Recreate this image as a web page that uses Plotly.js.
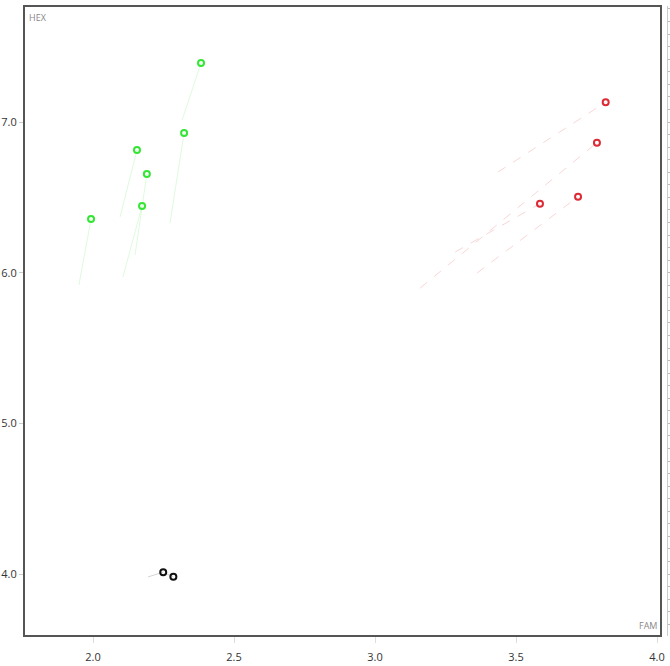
<!DOCTYPE html>
<html><head><meta charset="utf-8">
<script src="https://cdn.plot.ly/plotly-3.0.1.min.js"></script>
<style>html,body{margin:0;padding:0;background:#fff}</style>
</head><body><div id="chart" style="width:670px;height:666px"></div>
<script>
// Green group
const greenX = [1.993, 2.156, 2.191, 2.174, 2.323, 2.383];
const greenY = [6.356, 6.814, 6.655, 6.443, 6.927, 7.392];
const greenTailX = [1.950, 2.096, 2.149, 2.106, 2.273, 2.316];
const greenTailY = [5.918, 6.370, 6.117, 5.971, 6.330, 7.013];
// Red group
const redX = [3.818, 3.787, 3.585, 3.720];
const redY = [7.131, 6.863, 6.458, 6.504];
const redTailX = [3.436, 3.160, 3.284, 3.362];
const redTailY = [6.668, 5.898, 6.137, 5.998];
// Black group
const blackX = [2.249, 2.285];
const blackY = [4.013, 3.982];
const blackTailX = [2.195, 2.262];
const blackTailY = [3.981, 4.001];

const xTicks = [2.0, 2.5, 3.0, 3.5, 4.0];
const xTickText = ['2.0', '2.5', '3.0', '3.5', '4.0'];
const yTicks = [4.0, 5.0, 6.0, 7.0];
const yTickText = ['4.0', '5.0', '6.0', '7.0'];

const traces = [];
function addTails(xs, ys, tx, ty, color, dash, op) {
  for (let i = 0; i < xs.length; i++) {
    traces.push({x: [tx[i], xs[i]], y: [ty[i], ys[i]], mode: 'lines', type: 'scatter',
      line: {color: color, width: 1, dash: dash}, opacity: op, hoverinfo: 'skip', showlegend: false});
  }
}
addTails(greenX, greenY, greenTailX, greenTailY, '#33dd33', 'solid', 0.16);
addTails(redX, redY, redTailX, redTailY, '#dd3333', 'dash', 0.2);
addTails(blackX, blackY, blackTailX, blackTailY, '#555555', 'solid', 0.25);
function addPts(xs, ys, color) {
  traces.push({x: xs, y: ys, mode: 'markers', type: 'scatter',
    marker: {symbol: 'circle-open', size: 6, color: color, line: {width: 2, color: color}}, showlegend: false});
}
addPts(greenX, greenY, '#33e633');
addPts(redX, redY, '#dd2a35');
addPts(blackX, blackY, '#111111');
// invisible trace for right tick axis
traces.push({x: [2], y: [5], yaxis: 'y2', mode: 'markers', marker: {opacity: 0}, hoverinfo: 'skip', showlegend: false});

const x0 = 2 + (24 - 93) / 282, x1 = 2 + (667 - 93) / 282;
const y0 = 7 - (636 - 122) / 150.7, y1 = 7 - (6 - 122) / 150.7;
const frameRight = (661 - 24) / 643;

const layout = {
  width: 670, height: 666,
  margin: {l: 24, r: 3, t: 6, b: 30},
  paper_bgcolor: '#fff', plot_bgcolor: '#fff',
  showlegend: false,
  font: {family: 'Open Sans, DejaVu Sans, sans-serif', size: 11, color: '#444'},
  xaxis: {range: [x0, x1], tickvals: xTicks, ticktext: xTickText, showgrid: false, zeroline: false,
    ticks: 'outside', ticklen: 6, tickcolor: '#ddd', tickwidth: 1, ticklabelstandoff: 5,
    tickfont: {size: 11, color: '#333'}, showline: false},
  yaxis: {range: [y0, y1], tickvals: yTicks, ticktext: yTickText, showgrid: false, zeroline: false,
    ticks: 'outside', ticklen: 4, tickcolor: '#ccc', tickwidth: 1,
    tickfont: {size: 11, color: '#333'}, showline: false},
  yaxis2: {range: [y0, y1], overlaying: 'y', side: 'right', showgrid: false, zeroline: false,
    showticklabels: false, ticks: 'outside', ticklen: 5, tickcolor: '#bbb', dtick: 1/12, tick0: 0,
    showline: true, linecolor: '#ccc', linewidth: 1},
  shapes: [{type: 'rect', xref: 'paper', yref: 'paper', x0: 0, x1: frameRight, y0: 0, y1: 1,
    line: {color: '#555', width: 2}}],
  annotations: [
    {text: 'HEX', xref: 'paper', yref: 'paper', x: 0.004, y: 0.995, xanchor: 'left', yanchor: 'top',
      showarrow: false, font: {size: 9, color: '#888'}},
    {text: 'FAM', xref: 'paper', yref: 'paper', x: frameRight - 0.003, y: 0.003, xanchor: 'right', yanchor: 'bottom',
      showarrow: false, font: {size: 9, color: '#888'}}
  ]
};
Plotly.newPlot('chart', traces, layout, {displayModeBar: false, staticPlot: true});
</script></body></html>
